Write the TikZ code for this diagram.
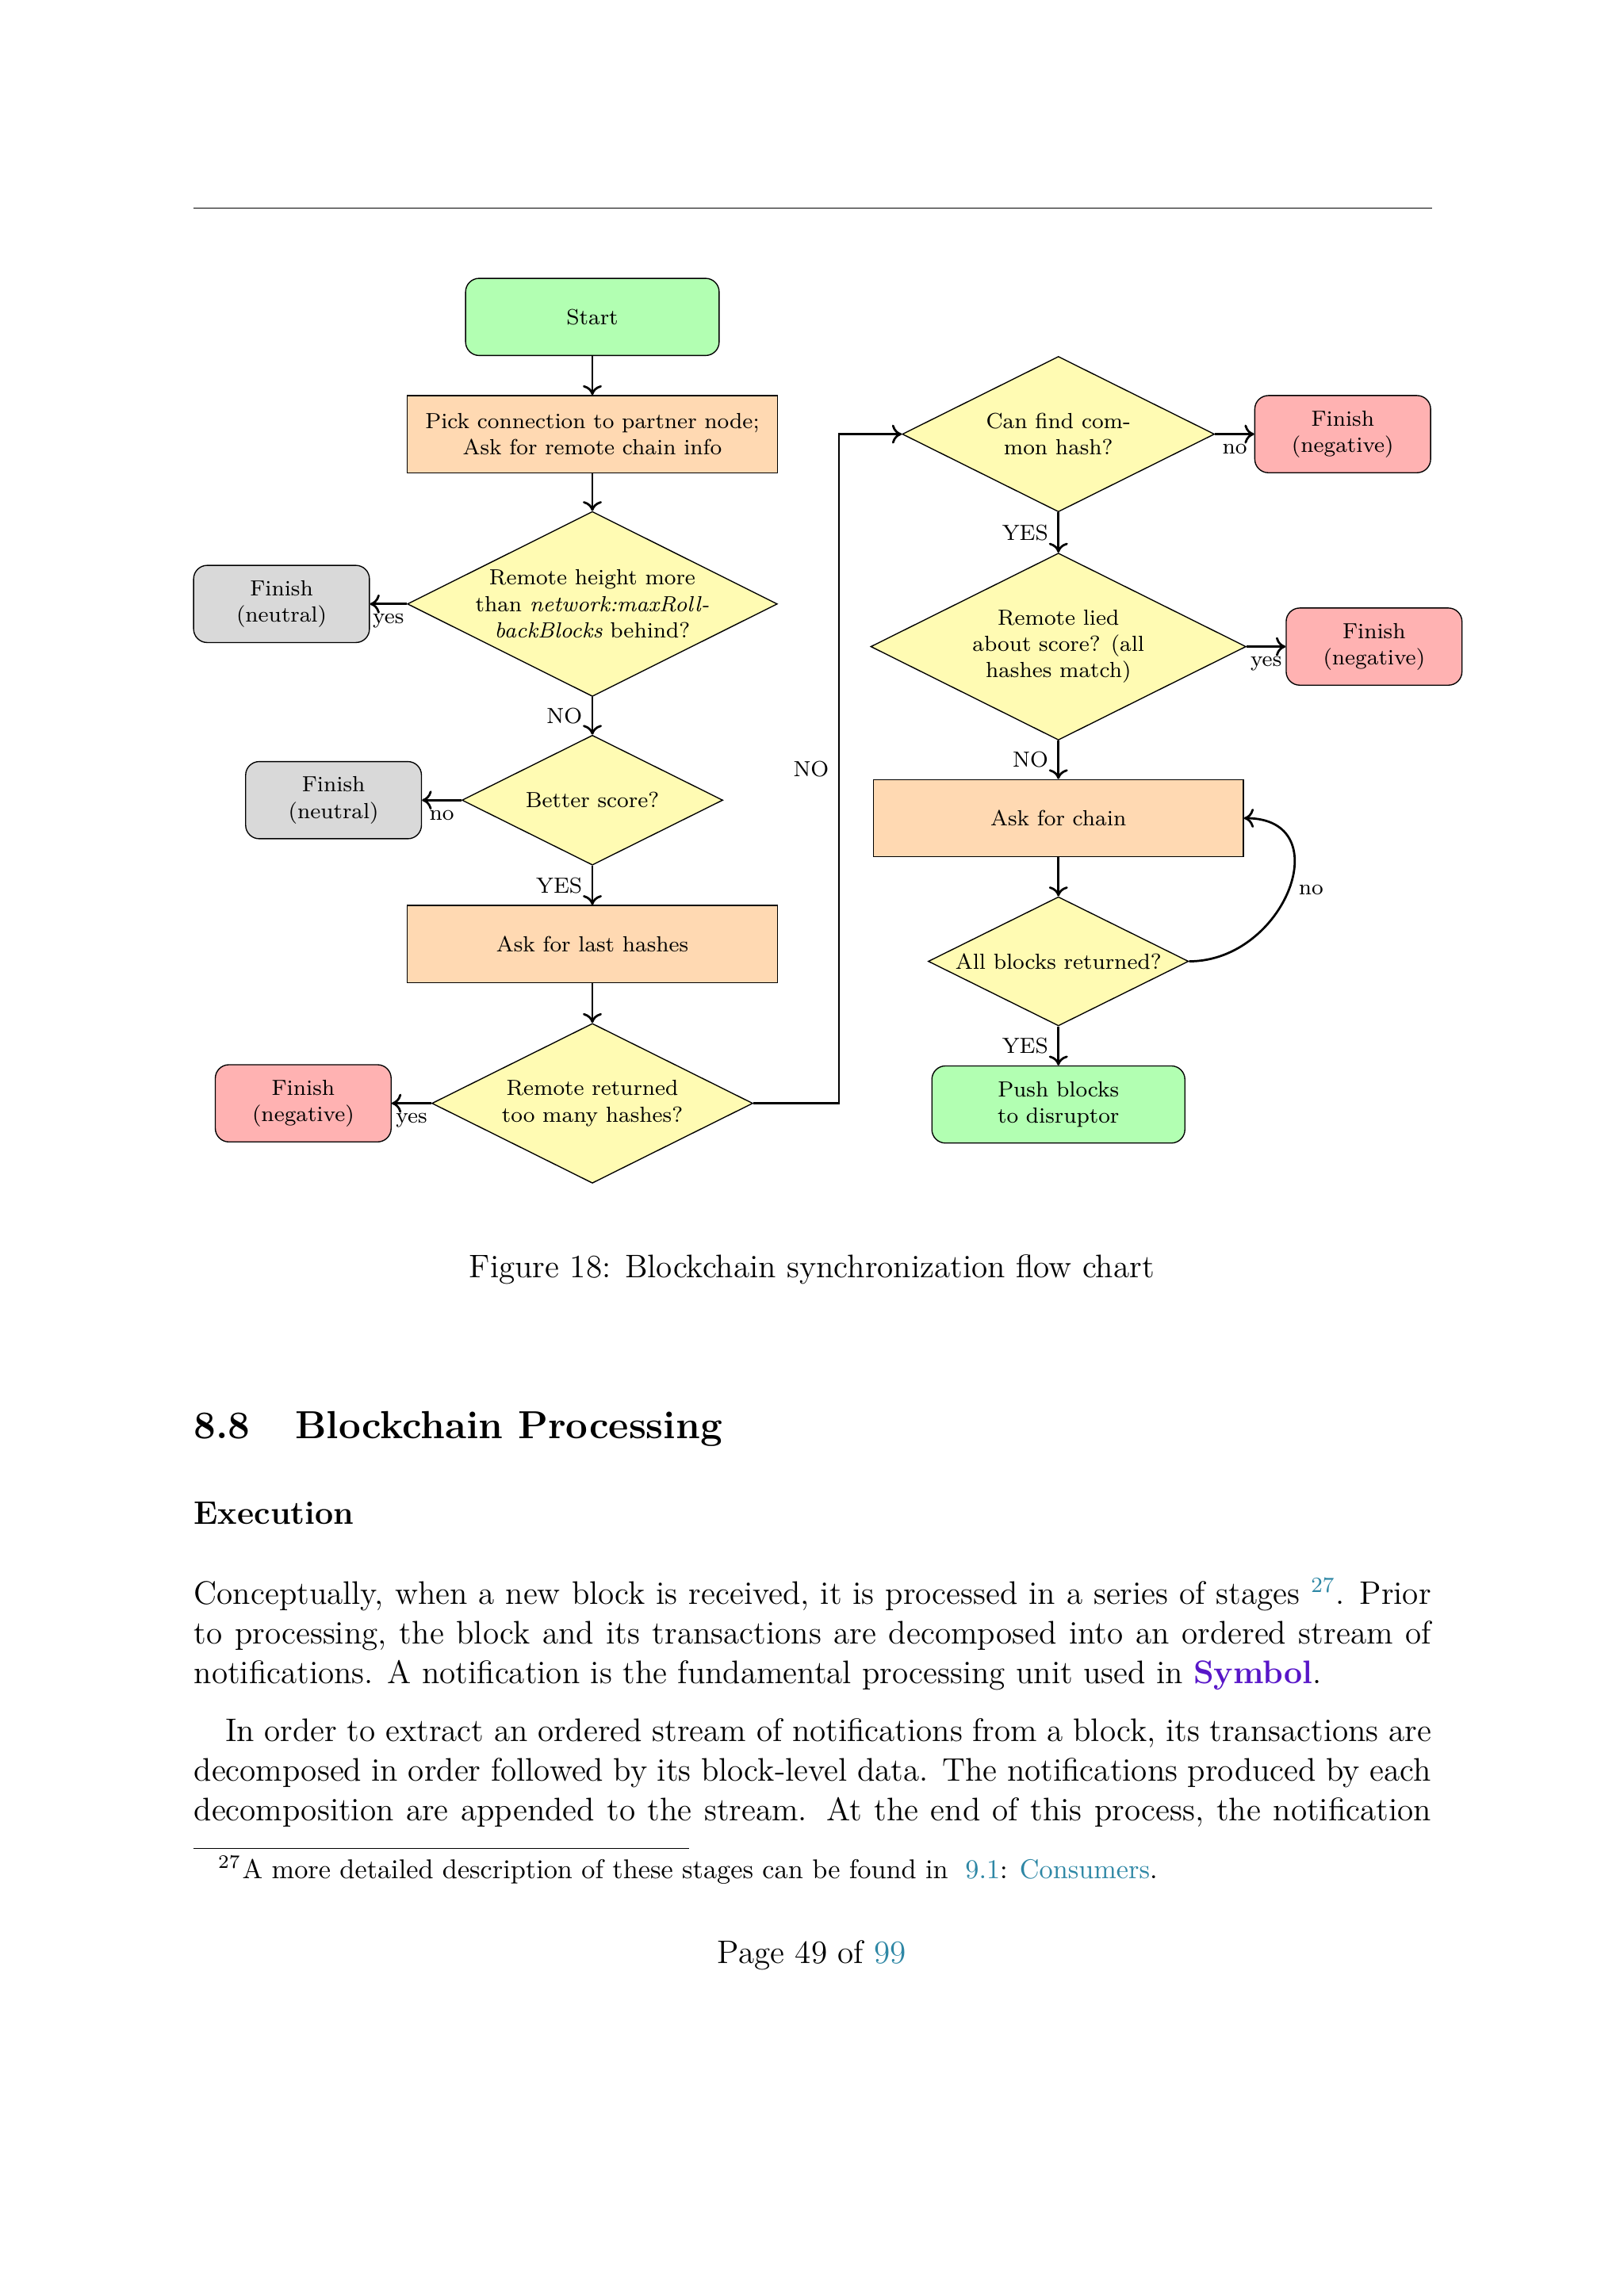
\documentclass[tikz,border=0pt]{standalone}
\usepackage{fontspec}
\usepackage{tikz}
\usetikzlibrary{shapes.geometric,arrows.meta}

\definecolor{linkteal}{RGB}{46,135,165}
\definecolor{symbolpurple}{RGB}{88,22,200}
\newcommand{\chartfont}{\fontsize{8.05}{9.7}\selectfont}
\newcommand{\bodyfont}{\fontsize{12}{14.5}\selectfont}

\tikzset{
  terminal/.style={rectangle, rounded corners=5pt, draw, align=center, minimum height=28.4pt, font=\chartfont},
  process/.style={rectangle, draw, fill=orange!30, align=center, minimum width=136.2pt, minimum height=28.4pt, font=\chartfont},
  decision/.style={diamond, aspect=2, draw, fill=yellow!30, align=center, inner sep=0pt, font=\chartfont},
  arrow/.style={thick, -{Computer Modern Rightarrow[length=3.6pt,width=7pt]}},
  lbl/.style={font=\chartfont},
  pagetext/.style={anchor=base west, inner sep=0pt, font=\bodyfont},
}

\begin{document}
\begin{tikzpicture}[x=0.53926pt,y=0.53926pt,yscale=-1,xscale=1]
%page
\fill[white] (0,0) rectangle (1108,1567);
\useasboundingbox (0,0) rectangle (1108,1567);

%Shape: header rule
\draw[line width=0.4pt] (132,142) -- (977,142);

%Shape: terminals
\node[terminal, fill=green!30, minimum width=93.3pt] (start) at (404.2,216.3) {Start};
\node[terminal, fill=gray!30, minimum width=64.7pt] (neutralA) at (192.1,412.2) {Finish\\(neutral)};
\node[terminal, fill=gray!30, minimum width=64.7pt] (neutralB) at (227.6,546.1) {Finish\\(neutral)};
\node[terminal, fill=red!30, minimum width=64.7pt] (negA) at (206.9,753) {Finish\\(negative)};
\node[terminal, fill=red!30, minimum width=64.7pt] (negB) at (916.2,296.3) {Finish\\(negative)};
\node[terminal, fill=red!30, minimum width=64.7pt] (negC) at (937.6,441.3) {Finish\\(negative)};
\node[terminal, fill=green!30, minimum width=93.1pt] (push) at (722.2,753.8) {Push blocks\\to disruptor};

%Shape: processes
\node[process] (pick) at (404.2,296.3) {Pick connection to partner node;\\Ask for remote chain info};
\node[process] (hashes) at (404.2,644.3) {Ask for last hashes};
\node[process] (chain) at (722.2,558.4) {Ask for chain};

%Shape: decisions
\node[decision, minimum width=134.1pt, minimum height=66.9pt] (height) at (404.2,412.2) {Remote height more\\than \textit{network:maxRoll-}\\\textit{backBlocks} behind?};
\node[decision, minimum width=96pt, minimum height=47.8pt] (score) at (404.2,546.1) {Better score?};
\node[decision, minimum width=118.1pt, minimum height=58.8pt] (toomany) at (404.2,753) {Remote returned\\too many hashes?};
\node[decision, minimum width=114.9pt, minimum height=57.2pt] (common) at (722.2,296.3) {Can find com-\\mon hash?};
\node[decision, minimum width=138.1pt, minimum height=68.8pt] (lied) at (722.2,441.3) {Remote lied\\about score? (all\\hashes match)};
\node[decision, minimum width=95.8pt, minimum height=47.5pt] (allblocks) at (722.2,656.1) {All blocks returned?};

\coordinate (bend) at (572.5,0);

%Connectors
\draw[arrow] (start) -- (pick);
\draw[arrow] (pick) -- (height);
\draw[arrow] (height) -- node[midway, below, lbl] {yes} (neutralA);
\draw[arrow] (height) -- node[midway, left, lbl] {NO} (score);
\draw[arrow] (score) -- node[midway, below, lbl] {no} (neutralB);
\draw[arrow] (score) -- node[midway, left, lbl] {YES} (hashes);
\draw[arrow] (hashes) -- (toomany);
\draw[arrow] (toomany) -- node[midway, below, lbl] {yes} (negA);
\draw[arrow] (toomany.east) -- (toomany.east -| bend) -- node[midway, left, lbl] {NO} (common.west -| bend) -- (common.west);
\draw[arrow] (common) -- node[midway, below, lbl] {no} (negB);
\draw[arrow] (common) -- node[midway, left, lbl] {YES} (lied);
\draw[arrow] (lied) -- node[midway, below, lbl] {yes} (negC);
\draw[arrow] (lied) -- node[midway, left, lbl] {NO} (chain);
\draw[arrow] (chain) -- (allblocks);
\draw[arrow] (allblocks.east) to[out=0, in=0, looseness=1.6] node[midway, right, lbl] {no} (chain.east);
\draw[arrow] (allblocks) -- node[midway, left, lbl] {YES} (push);

% Text Node
\node[anchor=base, inner sep=0pt, font=\bodyfont] (caption) at (554,872) {Figure 18: Blockchain synchronization flow chart};
% Text Node
\node[pagetext, font=\fontsize{14.4}{17}\selectfont\bfseries] (secnum) at (132,982) {8.8};
\node[pagetext, font=\fontsize{14.4}{17}\selectfont\bfseries] (sectitle) at (201,982) {Blockchain Processing};
% Text Node
\node[pagetext, font=\bodyfont\bfseries] (execution) at (132,1040) {Execution};
% Text Node
\node[pagetext] (lineA) at (132,1095) {\makebox[160mm][s]{Conceptually, when a new block is received, it is processed in a series of stages \textsuperscript{\color{linkteal}27}. Prior}};
\node[pagetext] (lineB) at (132,1122) {\makebox[160mm][s]{to processing, the block and its transactions are decomposed into an ordered stream of}};
\node[pagetext] (lineC) at (132,1149) {notifications. A notification is the fundamental processing unit used in \textbf{\color{symbolpurple}Symbol}.};
% Text Node
\node[pagetext] (lineD) at (153.4,1188.5) {\makebox[\dimexpr160mm-11.5pt\relax][s]{In order to extract an ordered stream of notifications from a block, its transactions are}};
\node[pagetext] (lineE) at (132,1215.5) {\makebox[160mm][s]{decomposed in order followed by its block-level data. The notifications produced by each}};
\node[pagetext] (lineF) at (132,1242.5) {\makebox[160mm][s]{decomposition are appended to the stream. At the end of this process, the notification}};

%Shape: footnote rule
\draw[line width=0.4pt] (132,1261.5) -- (470,1261.5);
% Text Node
\node[anchor=base east, inner sep=0pt, font=\fontsize{10}{12}\selectfont] (fnmark) at (165,1282) {\textsuperscript{27}};
\node[anchor=base west, inner sep=0pt, font=\fontsize{10}{12}\selectfont] (fntext) at (165,1282) {A more detailed description of these stages can be found in\hspace{0.3em} {\color{linkteal}9.1}: {\color{linkteal}Consumers}.};
% Text Node
\node[anchor=base, inner sep=0pt, font=\bodyfont] (pagenum) at (554,1340) {Page 49 of {\color{linkteal}99}};
\end{tikzpicture}
\end{document}
